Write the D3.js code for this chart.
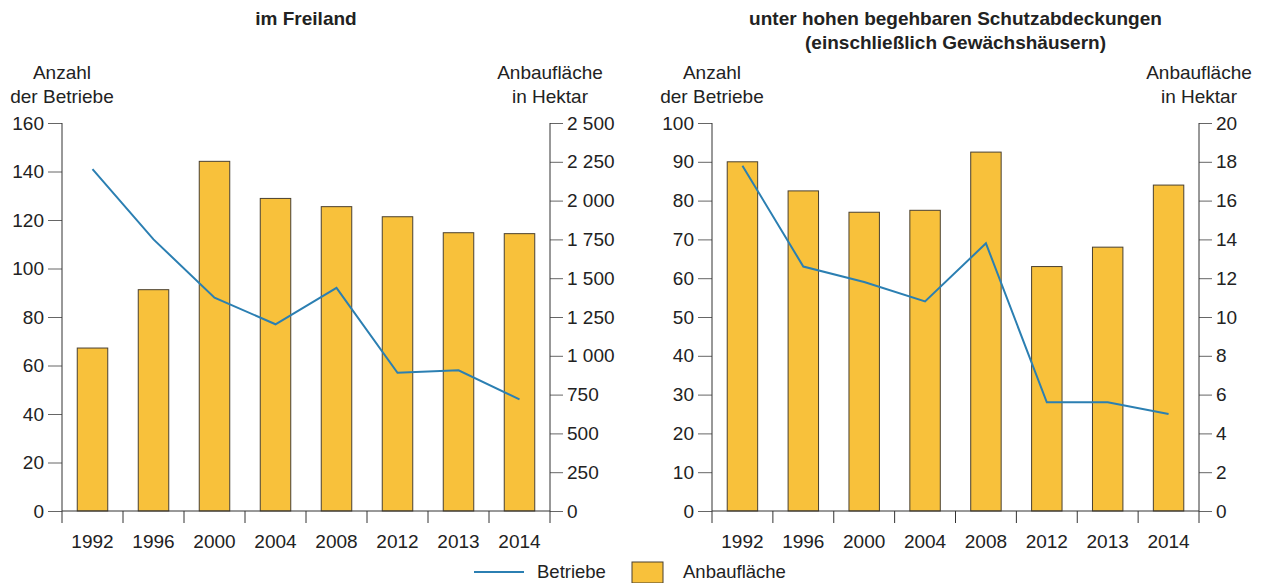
<!DOCTYPE html>
<html>
<head>
<meta charset="utf-8">
<script src="https://cdn.jsdelivr.net/npm/d3@7"></script>
<style>
  body { margin: 0; background: #fff; }
  svg { display: block; font-family: "Liberation Sans", Arial, sans-serif; }
</style>
</head>
<body>
<svg id="chart" width="1263" height="583"></svg>
<script>
// ---- Data ----
const years = ["1992", "1996", "2000", "2004", "2008", "2012", "2013", "2014"];

// Panel 1: im Freiland
const freilandBetriebe = [141, 112, 88, 77, 92, 57, 58, 46];
const freilandFlaeche = [1050, 1426, 2253, 2014, 1961, 1896, 1793, 1787];
const freilandLeftTicks = [0, 20, 40, 60, 80, 100, 120, 140, 160];
const freilandRightTicks = [0, 250, 500, 750, 1000, 1250, 1500, 1750, 2000, 2250, 2500];

// Panel 2: unter hohen begehbaren Schutzabdeckungen
const schutzBetriebe = [89, 63, 59, 54, 69, 28, 28, 25];
const schutzFlaeche = [18.0, 16.5, 15.4, 15.5, 18.5, 12.6, 13.6, 16.8];
const schutzLeftTicks = [0, 10, 20, 30, 40, 50, 60, 70, 80, 90, 100];
const schutzRightTicks = [0, 2, 4, 6, 8, 10, 12, 14, 16, 18, 20];

const titles1 = ["im Freiland"];
const titles2 = ["unter hohen begehbaren Schutzabdeckungen", "(einschließlich Gewächshäusern)"];
const leftAxisTitle = ["Anzahl", "der Betriebe"];
const rightAxisTitle = ["Anbaufläche", "in Hektar"];
const legendLabels = ["Betriebe", "Anbaufläche"];

// ---- Styles ----
const barFill = "#F8C13B";
const barStroke = "#4a4030";
const lineColor = "#2B7FB2";
const textColor = "#222";
const axisColor = "#333";
const tickColor = "#666";
const fs = 19;

const loc = d3.formatLocale({decimal: ",", thousands: "\u00a0", grouping: [3], currency: ["", "€"]});
const fmt = loc.format(",d");

const svg = d3.select("#chart");

function panel(cfg) {
  const {x0, x1, yTop, yBottom, titles, betriebe, flaeche, leftTicks, rightTicks} = cfg;
  const g = svg.append("g");

  const x = d3.scaleBand().domain(years).range([x0, x1]).paddingInner(0.5).paddingOuter(0.25);
  const yL = d3.scaleLinear().domain([leftTicks[0], leftTicks[leftTicks.length - 1]]).range([yBottom, yTop]);
  const yR = d3.scaleLinear().domain([rightTicks[0], rightTicks[rightTicks.length - 1]]).range([yBottom, yTop]);

  // Titles
  const cx = (x0 + x1) / 2;
  g.selectAll("text.title").data(titles).join("text")
    .attr("class", "title")
    .attr("x", cx).attr("y", (d, i) => 25 + i * 24)
    .attr("text-anchor", "middle")
    .attr("font-size", fs).attr("font-weight", "bold")
    .attr("fill", textColor).text(d => d);

  // Axis titles
  g.selectAll("text.lt").data(leftAxisTitle).join("text")
    .attr("class", "lt")
    .attr("x", x0).attr("y", (d, i) => 79 + i * 24)
    .attr("text-anchor", "middle").attr("font-size", fs)
    .attr("fill", textColor).text(d => d);
  g.selectAll("text.rt").data(rightAxisTitle).join("text")
    .attr("class", "rt")
    .attr("x", x1).attr("y", (d, i) => 79 + i * 24)
    .attr("text-anchor", "middle").attr("font-size", fs)
    .attr("fill", textColor).text(d => d);

  // Bars
  g.selectAll("rect.bar").data(flaeche).join("rect")
    .attr("class", "bar")
    .attr("x", (d, i) => x(years[i]))
    .attr("width", x.bandwidth())
    .attr("y", d => yR(d))
    .attr("height", d => yR(0) - yR(d))
    .attr("fill", barFill)
    .attr("stroke", barStroke).attr("stroke-width", 1);

  // Line
  const line = d3.line()
    .x((d, i) => x(years[i]) + x.bandwidth() / 2)
    .y(d => yL(d));
  g.append("path").datum(betriebe)
    .attr("d", line)
    .attr("fill", "none")
    .attr("stroke", lineColor).attr("stroke-width", 2);

  // Left axis
  const axL = g.append("g").attr("transform", `translate(${x0},0)`)
    .call(d3.axisLeft(yL).tickValues(leftTicks).tickSize(14).tickSizeOuter(0).tickPadding(4).tickFormat(fmt));
  axL.select(".domain").remove();
  axL.selectAll(".tick line").attr("stroke", tickColor);
  axL.selectAll(".tick text").attr("font-size", fs).attr("fill", textColor).attr("font-family", "Liberation Sans, Arial, sans-serif");

  // Right axis
  const axR = g.append("g").attr("transform", `translate(${x1},0)`)
    .call(d3.axisRight(yR).tickValues(rightTicks).tickSize(13).tickSizeOuter(0).tickPadding(4).tickFormat(fmt));
  axR.select(".domain").remove();
  axR.selectAll(".tick line").attr("stroke", tickColor);
  axR.selectAll(".tick text").attr("font-size", fs).attr("fill", textColor).attr("font-family", "Liberation Sans, Arial, sans-serif");

  // Axis lines
  const tickDown = 12;
  g.append("line").attr("x1", x0).attr("x2", x0).attr("y1", yTop).attr("y2", yBottom + tickDown)
    .attr("stroke", axisColor).attr("stroke-width", 1);
  g.append("line").attr("x1", x1).attr("x2", x1).attr("y1", yTop).attr("y2", yBottom + tickDown)
    .attr("stroke", axisColor).attr("stroke-width", 1);
  g.append("line").attr("x1", x0).attr("x2", x1).attr("y1", yBottom).attr("y2", yBottom)
    .attr("stroke", axisColor).attr("stroke-width", 1);

  // Category boundary ticks
  const half = x.step() * x.paddingInner() / 2;
  const bounds = years.map(y => x(y) - half);
  g.selectAll("line.xt").data(bounds.slice(1)).join("line")
    .attr("class", "xt")
    .attr("x1", d => d).attr("x2", d => d)
    .attr("y1", yBottom).attr("y2", yBottom + tickDown)
    .attr("stroke", axisColor).attr("stroke-width", 1);

  // Category labels
  g.selectAll("text.xl").data(years).join("text")
    .attr("class", "xl")
    .attr("x", d => x(d) + x.bandwidth() / 2)
    .attr("y", yBottom + 37)
    .attr("text-anchor", "middle").attr("font-size", fs)
    .attr("fill", textColor).text(d => d);
}

panel({x0: 62, x1: 550, yTop: 123, yBottom: 511, titles: titles1,
  betriebe: freilandBetriebe, flaeche: freilandFlaeche,
  leftTicks: freilandLeftTicks, rightTicks: freilandRightTicks});

panel({x0: 712, x1: 1199, yTop: 123, yBottom: 511, titles: titles2,
  betriebe: schutzBetriebe, flaeche: schutzFlaeche,
  leftTicks: schutzLeftTicks, rightTicks: schutzRightTicks});

// Legend
const lg = svg.append("g");
lg.append("line").attr("x1", 474).attr("x2", 524).attr("y1", 572).attr("y2", 572)
  .attr("stroke", lineColor).attr("stroke-width", 2);
lg.append("text").attr("x", 537).attr("y", 578).attr("font-size", 18.5).attr("fill", textColor).text(legendLabels[0]);
lg.append("rect").attr("x", 632).attr("y", 562).attr("width", 31).attr("height", 21)
  .attr("fill", barFill).attr("stroke", barStroke).attr("stroke-width", 1);
lg.append("text").attr("x", 683).attr("y", 578).attr("font-size", 18.5).attr("fill", textColor).text(legendLabels[1]);
</script>
</body>
</html>
